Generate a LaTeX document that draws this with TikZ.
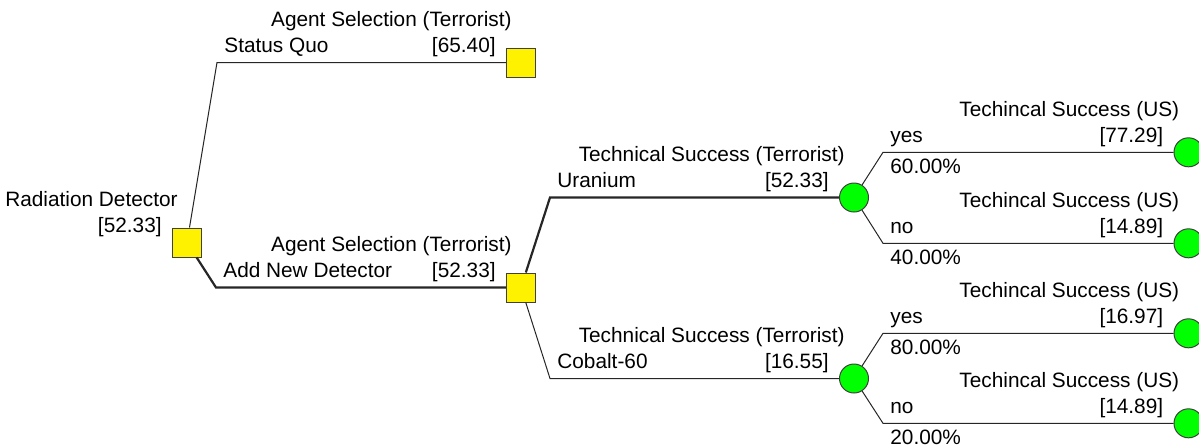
\documentclass[tikz,border=0pt]{standalone}
\usepackage{fontspec}
\setmainfont{Liberation Sans}

\begin{document}
\begin{tikzpicture}[
    x=0.5pt, y=-0.5pt,
    every node/.style={inner sep=0pt, font=\fontsize{10.4}{12}\selectfont},
    decision/.style={
        draw=black!75,
        fill=yellow,
        line width=0.5pt,
        minimum size=14.5pt
    },
    chance/.style={
        circle,
        draw=black!75,
        fill=green,
        line width=0.5pt,
        minimum size=14.5pt
    },
    title/.style={anchor=base east, xshift=3pt, yshift=18pt},
    value/.style={anchor=base east, xshift=-5pt, yshift=5pt},
    branch/.style={anchor=base west, xshift=3.5pt, yshift=5pt},
    prob/.style={anchor=base west, xshift=3.5pt, yshift=-10.5pt},
    link/.style={draw=black!85, line width=0.5pt},
    optimal/.style={draw=black!85, line width=1.1pt}
]
\useasboundingbox (0,0) rectangle (1199,446);

% decision and chance nodes
\node[decision] (root) at (187,242.5) {};
\node[decision] (quo) at (521,62.5) {};
\node[decision] (add) at (521,287.5) {};
\node[chance] (uran) at (854,197.5) {};
\node[chance] (cobalt) at (854,378.5) {};
\node[chance] (uyes) at (1188.5,152.3) {};
\node[chance] (uno) at (1188.5,243.3) {};
\node[chance] (cyes) at (1188.5,333.3) {};
\node[chance] (cno) at (1188.5,423.3) {};

% elbows of the branches
\coordinate (kquo) at (217,62.5);
\coordinate (kadd) at (216,287.5);
\coordinate (kuran) at (550,197.5);
\coordinate (kcobalt) at (550,378.5);
\coordinate (kuyes) at (883,152.3);
\coordinate (kuno) at (883,243.3);
\coordinate (kcyes) at (883,333.3);
\coordinate (kcno) at (883,423.3);

% branches
\draw[link] (root) -- (kquo) -- (quo);
\draw[optimal] (root) -- (kadd) -- (add);
\draw[optimal] (add) -- (kuran) -- (uran);
\draw[link] (add) -- (kcobalt) -- (cobalt);
\draw[link] (uran) -- (kuyes) -- (uyes);
\draw[link] (uran) -- (kuno) -- (uno);
\draw[link] (cobalt) -- (kcyes) -- (cyes);
\draw[link] (cobalt) -- (kcno) -- (cno);

% node titles and values
\node[title] (troot) at (root.west) {Radiation Detector};
\node[value] (vroot) at (root.west) {[52.33]};
\node[title] (tquo) at (quo.west) {Agent Selection (Terrorist)};
\node[value] (vquo) at (quo.west) {[65.40]};
\node[title] (tadd) at (add.west) {Agent Selection (Terrorist)};
\node[value] (vadd) at (add.west) {[52.33]};
\node[title] (turan) at (uran.west) {Technical Success (Terrorist)};
\node[value] (vuran) at (uran.west) {[52.33]};
\node[title] (tcobalt) at (cobalt.west) {Technical Success (Terrorist)};
\node[value] (vcobalt) at (cobalt.west) {[16.55]};
\node[title] (tuyes) at (uyes.west) {Techincal Success (US)};
\node[value] (vuyes) at (uyes.west) {[77.29]};
\node[title] (tuno) at (uno.west) {Techincal Success (US)};
\node[value] (vuno) at (uno.west) {[14.89]};
\node[title] (tcyes) at (cyes.west) {Techincal Success (US)};
\node[value] (vcyes) at (cyes.west) {[16.97]};
\node[title] (tcno) at (cno.west) {Techincal Success (US)};
\node[value] (vcno) at (cno.west) {[14.89]};

% branch names and probabilities
\node[branch] (bquo) at (kquo) {Status Quo};
\node[branch] (badd) at (kadd) {Add New Detector};
\node[branch] (buran) at (kuran) {Uranium};
\node[branch] (bcobalt) at (kcobalt) {Cobalt-60};
\node[branch] (buyes) at (kuyes) {yes};
\node[prob] (puyes) at (kuyes) {60.00\%};
\node[branch] (buno) at (kuno) {no};
\node[prob] (puno) at (kuno) {40.00\%};
\node[branch] (bcyes) at (kcyes) {yes};
\node[prob] (pcyes) at (kcyes) {80.00\%};
\node[branch] (bcno) at (kcno) {no};
\node[prob] (pcno) at (kcno) {20.00\%};

\end{tikzpicture}
\end{document}
